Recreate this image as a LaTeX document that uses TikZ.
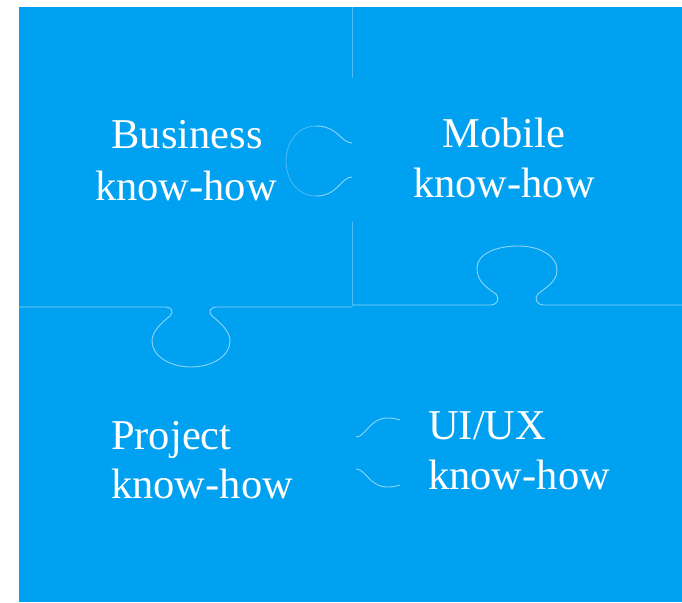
\documentclass[tikz,border=0pt]{standalone}
\usepackage{fontspec}
\setmainfont{Liberation Serif}
\definecolor{pblue}{RGB}{0,161,241}
\colorlet{seam}{white!55!pblue}
\colorlet{seamfaint}{white!30!pblue}
\tikzset{
  lbl/.style={text=white, inner sep=0pt, font=\fontsize{42.5}{52}\selectfont},
  seamline/.style={draw=seam, line width=0.9pt},
  faintline/.style={draw=seamfaint, line width=0.8pt}
}
\begin{document}
\begin{tikzpicture}[x=1pt,y=-1pt]
\useasboundingbox (0,0) rectangle (682,602);
\fill[white] (0,0) rectangle (682,602);
\fill[pblue] (19,7) rectangle (682,602);
% vertical seam (top half)
\draw[faintline] (352.5,7) -- (352.5,78);
\draw[faintline] (352.5,222) -- (352.5,305);
% knob of top-right piece, pointing left
\draw[seamline] (352,143) .. controls (341,143) and (338,126) .. (316,126);
\draw[faintline] (316,126) .. controls (298,126) and (286,142) .. (286,161) .. controls (286,180) and (298,196) .. (316,196);
\draw[seamline] (316,196) .. controls (338,196) and (341,177) .. (352,177);
% horizontal seam, left half, with knob pointing down
\draw[seamline] (19,307) -- (165,307) .. controls (172,307) and (174,312) .. (170,316)
  .. controls (160,324) and (152,332) .. (152,341)
  .. controls (152,356) and (170,367) .. (191,367)
  .. controls (212,367) and (230,356) .. (230,341)
  .. controls (230,332) and (222,324) .. (212,316)
  .. controls (208,312) and (210,307) .. (217,307) -- (352,307);
% horizontal seam, right half, with knob pointing up
\draw[seamline] (352,305) -- (490,305) .. controls (497,305) and (500,300) .. (496,294)
  .. controls (484,286) and (477,280) .. (477,268)
  .. controls (477,254) and (496,246) .. (518,246)
  .. controls (540,246) and (557,256) .. (557,270)
  .. controls (557,282) and (545,288) .. (538,294)
  .. controls (534,298) and (536,305) .. (544,305) -- (682,305);
% knob of bottom-left piece, pointing right (partly visible)
\draw[seamline] (356,437) .. controls (366,437) and (369,418) .. (388,418) .. controls (393,418) and (397,419) .. (400,420);
\draw[seamline] (356,469) .. controls (366,469) and (369,487) .. (388,487) .. controls (393,487) and (397,486) .. (400,485);
% labels
\node[lbl, anchor=base] (bus1) at (187,148) {Business};
\node[lbl, anchor=base] (bus2) at (186,200) {know-how};
\node[lbl, anchor=base] (mob1) at (504,147) {Mobile};
\node[lbl, anchor=base] (mob2) at (504,197) {know-how};
\node[lbl, anchor=base west] (prj1) at (111,449) {Project};
\node[lbl, anchor=base west] (prj2) at (111,498) {know-how};
\node[lbl, anchor=base west] (uix1) at (428,439) {UI/UX};
\node[lbl, anchor=base west] (uix2) at (428,489) {know-how};
\end{tikzpicture}
\end{document}
